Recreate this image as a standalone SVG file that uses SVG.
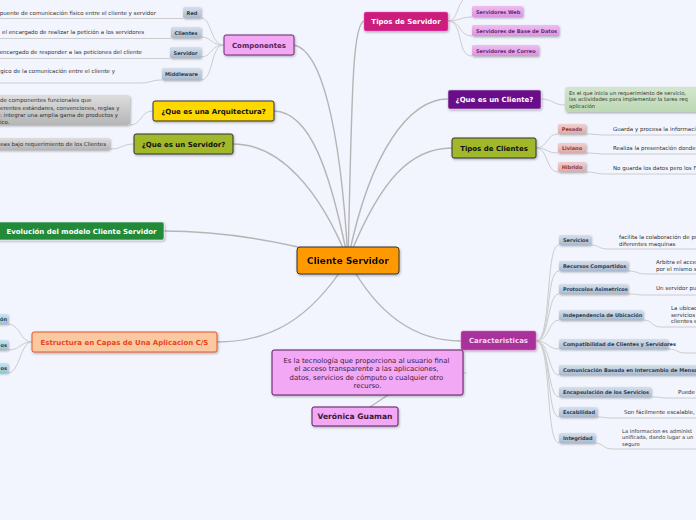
<svg xmlns="http://www.w3.org/2000/svg" width="696" height="520" viewBox="0 0 696 520">
<defs>
<filter id="sh" x="-10%" y="-20%" width="130%" height="160%"><feDropShadow dx="0.8" dy="1.2" stdDeviation="0.8" flood-color="#000" flood-opacity="0.3"/></filter>
<linearGradient id="gBlue" x1="0" y1="0" x2="0" y2="1"><stop offset="0" stop-color="#d6e0ec"/><stop offset="1" stop-color="#a9b9cd"/></linearGradient>
<linearGradient id="gPink" x1="0" y1="0" x2="0" y2="1"><stop offset="0" stop-color="#f0bdf0"/><stop offset="1" stop-color="#d994df"/></linearGradient>
<linearGradient id="gRed" x1="0" y1="0" x2="0" y2="1"><stop offset="0" stop-color="#f2d0d0"/><stop offset="1" stop-color="#dba9a9"/></linearGradient>
<linearGradient id="gTeal" x1="0" y1="0" x2="0" y2="1"><stop offset="0" stop-color="#c4e6ef"/><stop offset="1" stop-color="#8fc5d6"/></linearGradient>
<linearGradient id="gGray" x1="0" y1="0" x2="0" y2="1"><stop offset="0" stop-color="#dedede"/><stop offset="1" stop-color="#b5b5b5"/></linearGradient>
<linearGradient id="gGreen" x1="0" y1="0" x2="0" y2="1"><stop offset="0" stop-color="#d2e6cc"/><stop offset="1" stop-color="#bcd8b4"/></linearGradient>
</defs>
<style>
.bg{fill:#f2f5fd}
.main{fill:none;stroke:#b5b5b5;stroke-width:1.4}
.sub{fill:none;stroke:#cccccc;stroke-width:1}
.node{font-family:"DejaVu Sans",Verdana,sans-serif;font-weight:bold;text-anchor:middle;font-size:7px}
.lbl{font-family:"DejaVu Sans",Verdana,sans-serif;font-weight:bold;font-size:5px}
.txt{font-family:"DejaVu Sans",Verdana,sans-serif;font-size:5.5px;fill:#333}
.txs{font-family:"DejaVu Sans",Verdana,sans-serif;font-size:5.2px;fill:#333}
</style>
<rect class="bg" x="0" y="0" width="696" height="520"/>

<g id="connectors">
<path class="main" d="M348 260 C 340 120, 320 50, 294 45"/>
<path class="main" d="M348 260 C 352 100, 352 25, 364 21"/>
<path class="main" d="M348 260 C 370 150, 410 99, 448 99"/>
<path class="main" d="M348 260 C 380 180, 410 148, 452 148"/>
<path class="main" d="M348 260 C 330 170, 310 112, 274 111"/>
<path class="main" d="M348 260 C 320 190, 280 144, 233 144"/>
<path class="main" d="M348 260 C 280 240, 220 231, 164 231"/>
<path class="main" d="M348 260 C 310 320, 270 342, 217 342"/>
<path class="main" d="M348 260 C 380 320, 420 341, 461 341"/>
<path class="main" d="M370 407 L388 395"/>
<path class="sub" d="M463 373 L467 373"/>
<path class="sub" d="M224 45 C 210 45, 212 18, 201 18"/>
<path class="sub" d="M224 45 C 210 45, 212 37, 201 37"/>
<path class="sub" d="M224 45 C 210 45, 212 57, 201 57"/>
<path class="sub" d="M224 45 C 210 45, 214 80, 201 80"/>
<path class="sub" d="M0 18.5 L183 18.5"/>
<path class="sub" d="M0 38.5 L171 38.5"/>
<path class="sub" d="M0 58.5 L170 58.5"/>
<path class="sub" d="M0 83 L140 83 C 152 83, 150 80, 162 80"/>
<path class="sub" d="M153 111 C 140 111, 142 125, 130 125"/>
<path class="sub" d="M134 144 C 122 144, 122 149, 110 149"/>
<path class="sub" d="M448 21 C 458 21, 456 5, 465 -2"/>
<path class="sub" d="M448 21 C 460 21, 460 17, 472 17"/>
<path class="sub" d="M448 21 C 462 21, 458 36, 472 36"/>
<path class="sub" d="M448 21 C 464 21, 456 56, 472 56"/>
<path class="sub" d="M541 99 C 553 99, 553 105, 565 105"/>
<path class="sub" d="M536 148 C 548 148, 546 134, 558 134"/>
<path class="sub" d="M536 148 C 548 148, 546 153, 558 153"/>
<path class="sub" d="M536 148 C 548 148, 546 172, 558 172"/>
<path class="sub" d="M586 134 C 596 134, 596 135, 606 135 L696 135"/>
<path class="sub" d="M586 153 C 596 153, 596 154, 606 154 L696 154"/>
<path class="sub" d="M586 172 C 596 172, 596 174, 606 174 L696 174"/>
<path class="sub" d="M536 341 C 552 341, 545 245, 559 245"/>
<path class="sub" d="M536 341 C 552 341, 545 271, 559 271"/>
<path class="sub" d="M536 341 C 550 341, 547 294, 559 294"/>
<path class="sub" d="M536 341 C 550 341, 548 320, 559 320"/>
<path class="sub" d="M536 341 C 548 341, 548 349, 559 349"/>
<path class="sub" d="M536 341 C 550 341, 548 375, 559 375"/>
<path class="sub" d="M536 341 C 550 341, 547 397, 559 397"/>
<path class="sub" d="M536 341 C 552 341, 546 417, 559 417"/>
<path class="sub" d="M536 341 C 552 341, 545 443, 559 443"/>
<path class="sub" d="M591 245 C 600 245, 598 249, 608 249 L696 249"/>
<path class="sub" d="M628 271 C 638 271, 636 274, 646 274 L696 274"/>
<path class="sub" d="M628 294 C 638 294, 636 295, 646 295 L696 295"/>
<path class="sub" d="M643 320 C 653 320, 651 327, 661 327 L696 327"/>
<path class="sub" d="M668 349 C 678 349, 676 353, 686 353 L696 353"/>
<path class="sub" d="M651 397 C 660 397, 660 398, 668 398 L696 398"/>
<path class="sub" d="M597 417 C 605 417, 605 418, 614 418 L696 418"/>
<path class="sub" d="M595 443 C 603 443, 603 449, 612 449 L696 449"/>
<path class="sub" d="M32 342 C 20 342, 20 324, 8 324"/>
<path class="sub" d="M32 342 C 20 342, 20 350, 8 350"/>
<path class="sub" d="M32 342 C 20 342, 20 373, 8 373"/>
</g>

<g id="central" filter="url(#sh)">
<rect x="297" y="247" width="102" height="27" rx="3" fill="#ff9900" stroke="#333" stroke-width="1"/>
<text class="node" x="348" y="264.3" style="font-size:9px" fill="#111">Cliente Servidor</text>
</g>

<g id="componentes">
<rect x="224" y="35" width="70" height="20" rx="2" fill="#f2a8f4" stroke="#6a2a6a" stroke-width="1" filter="url(#sh)"/>
<text class="node" x="259" y="48" fill="#5a1d5a">Componentes</text>
</g>
<g id="red">
<rect x="183" y="7" width="18" height="11" rx="1.5" fill="url(#gBlue)" filter="url(#sh)"/>
<text class="lbl" x="192" y="14.5" text-anchor="middle" fill="#2e3e52">Red</text>
<text class="txt" x="156" y="14.5" text-anchor="end">puente de comunicación físico entre el cliente y servidor</text>
</g>
<g id="clientes">
<rect x="171" y="27" width="30" height="11" rx="1.5" fill="url(#gBlue)" filter="url(#sh)"/>
<text class="lbl" x="186" y="34.5" text-anchor="middle" fill="#2e3e52">Clientes</text>
<text class="txt" x="144" y="34" text-anchor="end">el encargado de realizar la petición a los servidores</text>
</g>
<g id="servidor">
<rect x="170" y="47" width="31" height="11" rx="1.5" fill="url(#gBlue)" filter="url(#sh)"/>
<text class="lbl" x="185.5" y="54.5" text-anchor="middle" fill="#2e3e52">Servidor</text>
<text class="txt" x="142" y="54" text-anchor="end">encargado de responder a las peticiones del cliente</text>
</g>
<g id="middleware">
<rect x="162" y="68" width="39" height="12" rx="1.5" fill="url(#gBlue)" filter="url(#sh)"/>
<text class="lbl" x="181.5" y="76" text-anchor="middle" fill="#2e3e52">Middleware</text>
<text class="txt" x="115" y="73" text-anchor="end">gico de la comunicación entre el cliente y</text>
</g>

<g id="arquitectura">
<rect x="153" y="101" width="121" height="20" rx="2" fill="#ffd800" stroke="#333" stroke-width="1" filter="url(#sh)"/>
<text class="node" x="213.5" y="113.5" fill="#111">¿Que es una Arquitectura?</text>
</g>
<g id="arquitectura-text">
<rect x="-5" y="95" width="135" height="30" rx="3" fill="url(#gGray)" filter="url(#sh)"/>
<text class="txt" x="0" y="102">de componentes funcionales que</text>
<text class="txt" x="0" y="109.5">erentes estándares, convenciones, reglas y</text>
<text class="txt" x="0" y="116.5">: integrar una amplia gama de productos y</text>
<text class="txt" x="0" y="123.5">ico.</text>
</g>

<g id="que-servidor">
<rect x="134" y="134" width="99" height="20" rx="2" fill="#a0b82c" stroke="#333" stroke-width="1" filter="url(#sh)"/>
<text class="node" x="183.5" y="146.5" fill="#111">¿Que es un Servidor?</text>
</g>
<g id="servidor-text">
<rect x="-5" y="138" width="115" height="12" rx="2" fill="url(#gGray)" filter="url(#sh)"/>
<text class="txt" x="106" y="146" text-anchor="end">eas bajo requerimiento de los Clientes</text>
</g>

<g id="evolucion">
<rect x="-3" y="222" width="167" height="18" rx="2" fill="#208a38" stroke="#eef" stroke-width="0.6" filter="url(#sh)"/>
<text class="node" x="81.5" y="233.5" fill="#fff">Evolución del modelo Cliente Servidor</text>
</g>

<g id="estructura">
<rect x="32" y="332" width="185" height="20" rx="2" fill="#fac9a2" stroke="#e8542a" stroke-width="1" filter="url(#sh)"/>
<text class="node" x="124.5" y="345" fill="#e8461a">Estructura en Capas de Una Aplicacion C/S</text>
</g>
<g id="capa1"><rect x="-10" y="314" width="18" height="10" rx="1.5" fill="url(#gTeal)" filter="url(#sh)"/><text class="lbl" x="7" y="321" text-anchor="end" fill="#2e3e52">ón</text></g>
<g id="capa2"><rect x="-10" y="340" width="18" height="10" rx="1.5" fill="url(#gTeal)" filter="url(#sh)"/><text class="lbl" x="7" y="347" text-anchor="end" fill="#2e3e52">os</text></g>
<g id="capa3"><rect x="-10" y="363" width="18" height="10" rx="1.5" fill="url(#gTeal)" filter="url(#sh)"/><text class="lbl" x="7" y="370" text-anchor="end" fill="#2e3e52">os</text></g>

<g id="tipos-servidor">
<rect x="364" y="12" width="84" height="19" rx="2" fill="#cc1a7c" stroke="#f6d" stroke-width="0.5" filter="url(#sh)"/>
<text class="node" x="406" y="24" fill="#fff">Tipos de Servidor</text>
</g>
<g id="srv-web"><rect x="472" y="6" width="51" height="11" rx="1.5" fill="url(#gPink)" filter="url(#sh)"/><text class="lbl" x="476" y="13.5" fill="#6a2a7a">Servidores Web</text></g>
<g id="srv-bd"><rect x="472" y="25" width="87" height="11" rx="1.5" fill="url(#gPink)" filter="url(#sh)"/><text class="lbl" x="476" y="32.5" fill="#6a2a7a">Servidores de Base de Datos</text></g>
<g id="srv-correo"><rect x="472" y="45" width="67" height="11" rx="1.5" fill="url(#gPink)" filter="url(#sh)"/><text class="lbl" x="476" y="52.5" fill="#6a2a7a">Servidores de Correo</text></g>

<g id="que-cliente">
<rect x="448" y="90" width="93" height="19" rx="2" fill="#6b0a8a" stroke="#ccc" stroke-width="0.6" filter="url(#sh)"/>
<text class="node" x="494.5" y="102" fill="#fff">¿Que es un Cliente?</text>
</g>
<g id="cliente-text">
<rect x="565" y="87" width="140" height="25" rx="3" fill="url(#gGreen)" filter="url(#sh)"/>
<text class="txs" x="569" y="94.5" fill="#3d5a3a">Es el que inicia un requerimiento de servicio,</text>
<text class="txs" x="569" y="101" fill="#3d5a3a">las actividades para implementar la tarea req</text>
<text class="txs" x="569" y="107.5" fill="#3d5a3a">aplicación</text>
</g>

<g id="tipos-clientes">
<rect x="452" y="138" width="84" height="20" rx="2" fill="#a0b82c" stroke="#333" stroke-width="1" filter="url(#sh)"/>
<text class="node" x="494" y="150.5" fill="#111">Tipos de Clientes</text>
</g>
<g id="pesado"><rect x="558" y="124" width="28" height="10" rx="1.5" fill="url(#gRed)" filter="url(#sh)"/><text class="lbl" x="572" y="131" text-anchor="middle" fill="#8a3a3a">Pesado</text><text class="txt" x="613" y="131">Guarda y procesa la informaci</text></g>
<g id="liviano"><rect x="558" y="143" width="28" height="10" rx="1.5" fill="url(#gRed)" filter="url(#sh)"/><text class="lbl" x="572" y="150" text-anchor="middle" fill="#8a3a3a">Liviano</text><text class="txt" x="613" y="150">Realiza la presentación donde</text></g>
<g id="hibrido"><rect x="558" y="162" width="28" height="10" rx="1.5" fill="url(#gRed)" filter="url(#sh)"/><text class="lbl" x="572" y="169" text-anchor="middle" fill="#8a3a3a">Híbrido</text><text class="txt" x="613" y="170">No guarda los datos pero los F</text></g>

<g id="caracteristicas">
<rect x="461" y="331" width="75" height="19" rx="2" fill="#a8309a" stroke="#e6c" stroke-width="0.5" filter="url(#sh)"/>
<text class="node" x="498.5" y="343" fill="#f6d4f2">Caracteristicas</text>
</g>
<g id="servicios"><rect x="559" y="235" width="32" height="10" rx="1.5" fill="url(#gBlue)" filter="url(#sh)"/><text class="lbl" x="563" y="242" fill="#2e3e52">Servicios</text><text class="txt" x="619" y="239">facilita la colaboración de pr</text><text class="txt" x="619" y="245.5">diferentes maquinas</text></g>
<g id="recursos"><rect x="559" y="261" width="69" height="10" rx="1.5" fill="url(#gBlue)" filter="url(#sh)"/><text class="lbl" x="563" y="268" fill="#2e3e52">Recursos Compartidos</text><text class="txt" x="656" y="264">Arbitra el acce</text><text class="txt" x="656" y="270.5">por el mismo s</text></g>
<g id="protocolos"><rect x="559" y="284" width="69" height="10" rx="1.5" fill="url(#gBlue)" filter="url(#sh)"/><text class="lbl" x="563" y="291" fill="#2e3e52">Protocolos Asimetricos</text><text class="txt" x="656" y="290">Un servidor pu</text></g>
<g id="independencia"><rect x="559" y="310" width="84" height="10" rx="1.5" fill="url(#gBlue)" filter="url(#sh)"/><text class="lbl" x="563" y="317" fill="#2e3e52">Independencia de Ubicación</text><text class="txt" x="671" y="310">La ubicac</text><text class="txt" x="671" y="316.5">servicios</text><text class="txt" x="671" y="323">clientes e</text></g>
<g id="compatibilidad"><rect x="559" y="339" width="109" height="10" rx="1.5" fill="url(#gBlue)" filter="url(#sh)"/><text class="lbl" x="563" y="346" fill="#2e3e52">Compatibilidad de Clientes y Servidores</text></g>
<g id="comunicacion"><rect x="559" y="365" width="145" height="10" rx="1.5" fill="url(#gBlue)" filter="url(#sh)"/><text class="lbl" x="563" y="372" fill="#2e3e52">Comunicación Basada en Intercambio de Mensa</text></g>
<g id="encapsulacion"><rect x="559" y="387" width="92" height="10" rx="1.5" fill="url(#gBlue)" filter="url(#sh)"/><text class="lbl" x="563" y="394" fill="#2e3e52">Encapsulación de los Servicios</text><text class="txt" x="678" y="394">Puede</text></g>
<g id="escabilidad"><rect x="559" y="407" width="38" height="10" rx="1.5" fill="url(#gBlue)" filter="url(#sh)"/><text class="lbl" x="563" y="414" fill="#2e3e52">Escabilidad</text><text class="txt" x="624" y="413.5">Son fácilmente escalable,</text></g>
<g id="integridad"><rect x="559" y="433" width="36" height="10" rx="1.5" fill="url(#gBlue)" filter="url(#sh)"/><text class="lbl" x="563" y="440" fill="#2e3e52">Integridad</text><text class="txs" x="622" y="432.5">La informacion es administ</text><text class="txs" x="622" y="439">unificada, dando lugar a un</text><text class="txs" x="622" y="445.5">seguro</text></g>

<g id="descripcion">
<rect x="272" y="350" width="191" height="45" rx="2" fill="#f2a8f4" stroke="#5a1d5a" stroke-width="1" filter="url(#sh)"/>
<text font-family="DejaVu Sans, Verdana, sans-serif" font-size="6.9" fill="#3a1a3a" text-anchor="middle">
<tspan x="367.5" y="362.5">Es la tecnología que proporciona al usuario final</tspan>
<tspan x="367.5" y="371">el acceso transparente a las aplicaciones,</tspan>
<tspan x="367.5" y="379.5">datos, servicios de cómputo o cualquier otro</tspan>
<tspan x="367.5" y="388">recurso.</tspan>
</text>
</g>

<g id="veronica">
<rect x="312" y="407" width="86" height="19" rx="2" fill="#f2a8f4" stroke="#5a1d5a" stroke-width="1" filter="url(#sh)"/>
<text class="node" x="355" y="419.3" style="font-size:7.6px" fill="#3a1a3a">Verónica Guaman</text>
</g>
</svg>
